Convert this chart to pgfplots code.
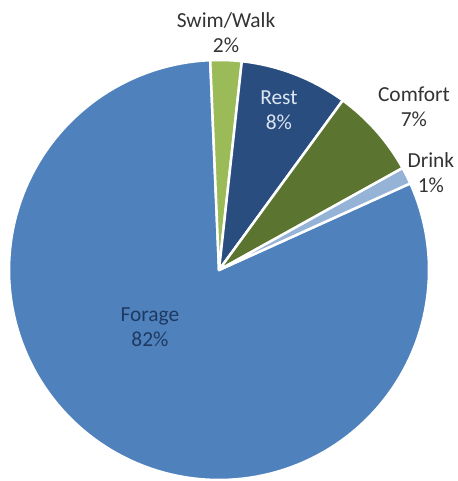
\documentclass[border=0pt]{standalone}
\usepackage{pgfplots}
\pgfplotsset{compat=1.18}
\usepgfplotslibrary{polar}
\usepackage{fontspec}
\setmainfont{Carlito}
\definecolor{cForage}{HTML}{4F81BD}
\definecolor{cSwim}{HTML}{9BBB59}
\definecolor{cRest}{HTML}{2A4D7F}
\definecolor{cComfort}{HTML}{5B7530}
\definecolor{cDrink}{HTML}{95B3D7}
\definecolor{cText}{HTML}{333333}
\definecolor{cRestText}{HTML}{DCE6F2}
\definecolor{cForageText}{HTML}{1F3A60}
% shares in percent (clockwise from the first slice)
\def\pSwim{2.4}
\def\pRest{8.3}
\def\pComfort{6.9}
\def\pDrink{1.3}
\def\pForage{81.1}
\def\startangle{92.4}
\pgfmathsetmacro\aA{\startangle}
\pgfmathsetmacro\aB{\aA-3.6*\pSwim}
\pgfmathsetmacro\aC{\aB-3.6*\pRest}
\pgfmathsetmacro\aD{\aC-3.6*\pComfort}
\pgfmathsetmacro\aE{\aD-3.6*\pDrink}
\pgfmathsetmacro\aF{\aE-3.6*\pForage}
\begin{document}
\begin{tikzpicture}[x=1bp,y=1bp]
\useasboundingbox (0,0) rectangle (458,481);
\begin{polaraxis}[
  at={(219bp,211bp)}, anchor=center,
  width=420bp, height=420bp, scale only axis,
  ymin=0, ymax=1, hide axis, clip=false,
  every axis plot/.append style={draw=white, line width=2.5bp, line join=round},
]
\addplot[fill=cForage, domain=\aF:\aE, samples=150] {1} -- (axis cs:0,0) -- cycle;
\addplot[fill=cSwim, domain=\aB:\aA, samples=10] {1} -- (axis cs:0,0) -- cycle;
\addplot[fill=cRest, domain=\aC:\aB, samples=30] {1} -- (axis cs:0,0) -- cycle;
\addplot[fill=cComfort, domain=\aD:\aC, samples=30] {1} -- (axis cs:0,0) -- cycle;
\addplot[fill=cDrink, domain=\aE:\aD, samples=10] {1} -- (axis cs:0,0) -- cycle;
\begin{scope}[font=\fontsize{21.5}{25}\selectfont, align=center]
\node[text=cText] at (axis cs:88.3,1.131) {Swim/Walk\\2\%};
\node[text=cRestText] at (axis cs:69.4,0.811) {Rest\\8\%};
\node[text=cText] at (axis cs:39.9,1.210) {Comfort\\7\%};
\node[text=cText] at (axis cs:24.7,1.111) {Drink\\1\%};
\node[text=cForageText] at (axis cs:219.8,0.428) {Forage\\82\%};
\end{scope}
\end{polaraxis}
\end{tikzpicture}
\end{document}
